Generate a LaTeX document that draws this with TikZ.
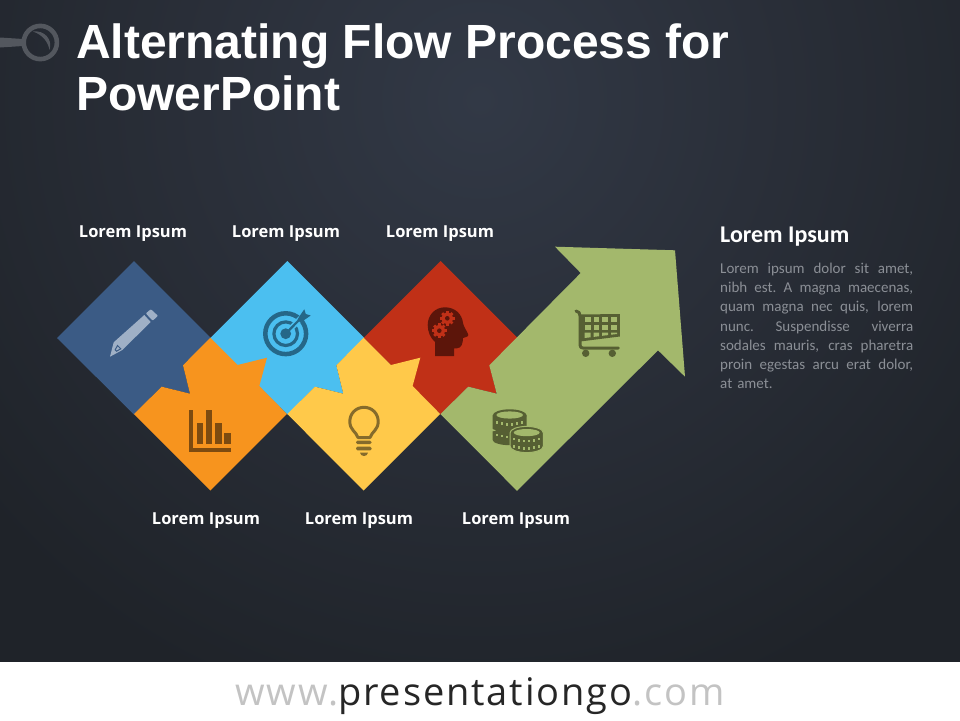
\documentclass[tikz,border=0pt]{standalone}
\usepackage{fontspec}
\setmainfont{Liberation Sans}
\newfontfamily\labelf{Open Sans}
\newfontfamily\sidef{Carlito}
\newfontfamily\footf[LetterSpace=5]{Open Sans}
\definecolor{bgA}{HTML}{323946}
\definecolor{bgB}{HTML}{2A2F39}
\definecolor{bgC}{HTML}{1F2329}
\definecolor{cBlue}{HTML}{3B5B85}
\definecolor{cSky}{HTML}{4BBFF0}
\definecolor{cRed}{HTML}{C03017}
\definecolor{cOrange}{HTML}{F7941E}
\definecolor{cYellow}{HTML}{FFC94A}
\definecolor{cGreen}{HTML}{A3B86C}
\definecolor{iBlue}{HTML}{9FB0C6}
\definecolor{iSky}{HTML}{256788}
\definecolor{iRed}{HTML}{5C150A}
\definecolor{iOrange}{HTML}{7D4B10}
\definecolor{iYellow}{HTML}{856B2B}
\definecolor{iGreen}{HTML}{565F33}
\definecolor{ringc}{HTML}{53575E}
\definecolor{bodyc}{HTML}{8B8F96}
\definecolor{footg}{HTML}{C3C3C3}
\definecolor{footd}{HTML}{262626}
\pgfdeclareradialshading{bgshade}{\pgfpoint{0bp}{0bp}}{color(0bp)=(bgA); color(11bp)=(bgB); color(25bp)=(bgC); color(50bp)=(bgC)}
\newcommand\jl[1]{\leavevmode\hbox to 193pt{\spaceskip=3.4pt plus 1fil\relax\xspaceskip=3.4pt plus 1fil\relax #1}\par}
\newcommand\gearicon[3]{\begin{scope}[shift={(#1,#2)}]
 \fill[cRed] (0,0) circle (#3*0.78);
 \foreach \a in {0,45,...,315} {\fill[cRed,rotate=\a] (-1.4,0) rectangle (1.4,#3);}
 \fill[iRed] (0,0) circle (2.3);
\end{scope}}
\newcommand\coinrow[2]{\foreach \d/\o in {-12.5/0,-7.5/1.1,-2.5/1.8,2.5/1.8,7.5/1.1,12.5/0} {\fill[cGreen] (#1+\d-1.2,#2+\o-1.2) rectangle ++(2.4,2.4);}}
\tikzset{
 title/.style={font=\fontsize{48}{48}\selectfont\bfseries,text=white,anchor=base west,inner sep=0pt},
 steplabel/.style={font=\labelf\fontsize{16.5}{18}\selectfont\bfseries,text=white,anchor=base,inner sep=0pt},
 icoline/.style={line cap=round,line join=round}
}
\begin{document}
\begin{tikzpicture}[x=1pt,y=-1pt]
\useasboundingbox (0,0) rectangle (960,720);
% background
\begin{scope}
\clip (0,0) rectangle (960,662);
\fill[bgC] (0,0) rectangle (960,662);
\shade[shading=bgshade] (480,100) circle (640);
\end{scope}
\fill[white] (0,662) rectangle (960,720);
% logo ring
\fill[ringc] (0,37.5) -- (23,39) -- (23,46) -- (0,47.5) -- cycle;
\draw[ringc,line width=4.6] (40.3,42.5) circle (16.6);
\fill[ringc] (33,31.5) .. controls (44,30) and (53,39) .. (49.5,50) .. controls (48,42) and (43,35) .. (33,31.5) -- cycle;
% title
\node[title] (t1) at (76,58) {Alternating Flow Process for};
\node[title] (t2) at (76,110) {PowerPoint};
% back shapes
\foreach \dx/\c in {0/cBlue,153.3/cSky,306.6/cRed} {
\fill[\c,shift={(\dx,0)}] (57,338) -- (134,261) -- (211,338) -- (183,365.3) -- (190,393.7) -- (161.7,386.7) -- (134,414.5) -- cycle;
}
% front shapes
\foreach \dx/\c in {0/cOrange,153.3/cYellow} {
\fill[\c,shift={(\dx,0)}] (210.3,337.7) -- (237.7,365) -- (267,357.7) -- (259.3,386) -- (286.9,414) -- (210.3,490.5) -- (134,414) -- (161.7,386.7) -- (190,393.7) -- (183,365.3) -- cycle;
}
\fill[cGreen] (517,490.8) -- (440.5,414) -- (468.3,386.7) -- (496.7,393.7) -- (489.3,365.3) -- (580.7,273) -- (555,246.7) -- (675,250.3) -- (685,376.7) -- (658,350.3) -- cycle;
% pencil
\fill[iBlue,draw=iBlue,icoline,line width=2] (147.3,313.5) -- (150.8,310.5) -- (156.5,315.8) -- (152.7,319.3) -- cycle;
\fill[iBlue] (144.3,315) -- (150.7,322) -- (122.3,350) -- (110,356.7) -- (113.7,342.3) -- cycle;
\draw[cBlue,line width=1] (115.2,349.8) -- (117.5,345.5) -- (120.8,348.8) -- (116.5,351.2) -- cycle;
% bars
\fill[iOrange] (189.3,410) rectangle (192.7,451.7);
\fill[iOrange] (189.3,448.3) rectangle (230.7,451.7);
\fill[iOrange] (196.7,422.7) rectangle (203.3,444);
\fill[iOrange] (205.7,410.3) rectangle (212.3,444);
\fill[iOrange] (215,422.7) rectangle (221.7,444);
\fill[iOrange] (224,433.3) rectangle (230.7,444);
% target
\draw[iSky,line width=4.5] (285.7,333.7) circle (20.4);
\draw[iSky,line width=3.2] (285.7,333.7) circle (11.8);
\fill[iSky] (285.7,333.7) circle (5.4);
\draw[cSky,line width=5.5] (291,328.4) -- (301,318);
\draw[iSky,line width=2.2] (286,333.4) -- (301,318);
\fill[iSky] (297.5,319.5) -- (301,314) -- (304.3,309.3) -- (305.8,314) -- (310.7,315.5) -- (306,318.8) -- (300.5,322.5) -- cycle;
% bulb
\draw[iYellow,line width=3,line join=round] (358,437.5) .. controls (356,431.5) and (349.8,430) .. (349.8,421.5) .. controls (349.8,413.5) and (356,407.3) .. (364,407.3) .. controls (372,407.3) and (378.2,413.5) .. (378.2,421.5) .. controls (378.2,430) and (372,431.5) .. (370,437.5) -- cycle;
\fill[iYellow,rounded corners=1.5] (356,440.7) rectangle (371.7,444);
\fill[iYellow,rounded corners=1.5] (356,446.7) rectangle (371.7,450.3);
\fill[iYellow] (360,452.7) -- (368,452.7) .. controls (367.5,455) and (366,456) .. (364,456) .. controls (362,456) and (360.5,455) .. (360,452.7) -- cycle;
% head
\fill[iRed] (435,356) -- (435,342) .. controls (430.5,338) and (427.7,332) .. (427.7,325) .. controls (427.7,315) and (435,307.3) .. (445,307.3) .. controls (455,307.3) and (462,314) .. (463,323) .. controls (463.5,327) and (468.3,333) .. (468.3,335) .. controls (468.3,337) and (464,337.5) .. (463,338) .. controls (463,343) and (461.5,348.3) .. (457,348.3) -- (454,348.3) -- (454,356) -- cycle;
\gearicon{447.3}{318.3}{7.3}
\gearicon{439.3}{330.7}{7.3}
% cart
\draw[iGreen,line width=3,icoline] (576,311) .. controls (579,311.5) and (580,313) .. (580,316) -- (580,345) .. controls (580,347) and (581,348) .. (583,348) -- (618.3,348);
\fill[iGreen] (580,314.5) -- (619.8,314) -- (619.8,336.5) -- (580,341.5) -- cycle;
\foreach \xa/\xb in {584.5/590.5,593.5/599.2,602.2/608,611/617} {
 \fill[cGreen] (\xa,317.3) rectangle (\xb,321.8);
 \fill[cGreen] (\xa,324.8) rectangle (\xb,329.5);
}
\fill[cGreen] (584.5,332.5) -- (590.5,332.5) -- (590.5,337.3) -- (584.5,338) -- cycle;
\fill[cGreen] (593.5,332.5) -- (599.2,332.5) -- (599.2,336.2) -- (593.5,336.9) -- cycle;
\fill[cGreen] (602.2,332.5) -- (608,332.5) -- (608,335.1) -- (602.2,335.8) -- cycle;
\fill[cGreen] (611,332.5) -- (617,332.5) -- (617,334) -- (611,334.7) -- cycle;
\fill[iGreen] (585.7,353.3) circle (3.7);
\fill[iGreen] (612.3,353.3) circle (3.7);
% coins left stack
\fill[iGreen] (492.7,415.5) -- (526.7,415.5) -- (526.7,440) .. controls (526.7,443) and (518,445.2) .. (509.7,445.2) .. controls (501,445.2) and (492.7,443) .. (492.7,440) -- cycle;
\fill[iGreen] (509.7,415.5) ellipse (17 and 6.2);
\fill[cGreen] (509.7,415) ellipse (13.3 and 3.6);
\fill[cGreen] (491.5,428.5) -- (496,430.5) -- (491.5,431.5) -- cycle;
\coinrow{509.7}{422.5}
\coinrow{509.7}{435}
% coins right stack
\fill[iGreen,draw=cGreen,line width=1] (510,433) -- (510,446) .. controls (510,450) and (518,452.6) .. (526.7,452.6) .. controls (535,452.6) and (543.4,450) .. (543.4,446) -- (543.4,433) .. controls (543.4,429) and (535,426.4) .. (526.7,426.4) .. controls (518,426.4) and (510,429) .. (510,433) -- cycle;
\fill[cGreen] (526.7,432.6) ellipse (13 and 3.6);
\coinrow{526.7}{439.2}
\coinrow{526.7}{446.5}
% labels
\node[steplabel] (l1) at (133,237) {Lorem Ipsum};
\node[steplabel] (l2) at (286,237) {Lorem Ipsum};
\node[steplabel] (l3) at (440,237) {Lorem Ipsum};
\node[steplabel] (l4) at (206,524) {Lorem Ipsum};
\node[steplabel] (l5) at (359,524) {Lorem Ipsum};
\node[steplabel] (l6) at (516,524) {Lorem Ipsum};
% side text
\node[font=\sidef\fontsize{24}{26}\selectfont\bfseries,text=white,anchor=base west,inner sep=0pt] (h) at (720,242.5) {Lorem Ipsum};
\node[font=\sidef\fontsize{15}{19.3}\selectfont,text=bodyc,anchor=north west,inner sep=0pt,text width=193pt] (b) at (720,262.5) {%
\jl{Lorem ipsum dolor sit amet,}\jl{nibh est. A magna maecenas,}\jl{quam magna nec quis, lorem}\jl{nunc. Suspendisse viverra}\jl{sodales mauris, cras pharetra}\jl{proin egestas arcu erat dolor,}\leavevmode\hbox{at amet.}};
% footer
\node[font=\footf\fontsize{38}{40}\selectfont,anchor=base,inner sep=0pt] (f) at (480,705) {\textcolor{footg}{www.}\textcolor{footd}{presentationgo}\textcolor{footg}{.com}};
\end{tikzpicture}
\end{document}
